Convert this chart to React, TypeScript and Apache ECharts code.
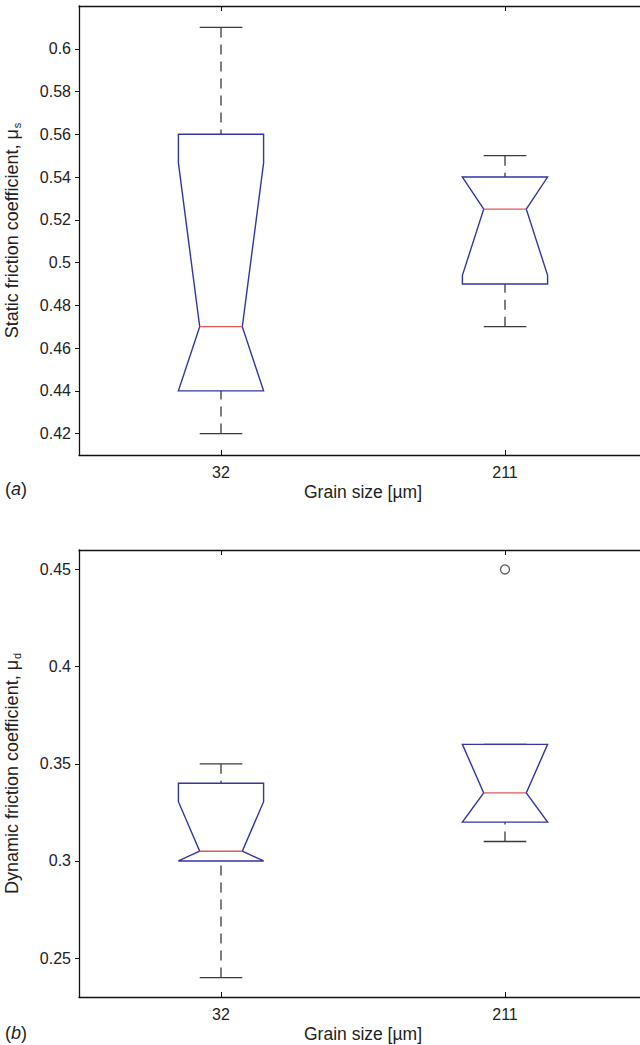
import React, { useEffect, useRef } from "react";
import * as echarts from "echarts";

// ---- data ----
const categories = ["32", "211"];

// (a) static friction coefficient
const staticMin = [0.42, 0.47];
const staticQ1 = [0.44, 0.49];
const staticMedian = [0.47, 0.525];
const staticQ3 = [0.56, 0.54];
const staticMax = [0.61, 0.55];
const staticNotchLo = [0.3934, 0.494];
const staticNotchHi = [0.5466, 0.556];
const staticTicks = [0.42, 0.44, 0.46, 0.48, 0.5, 0.52, 0.54, 0.56, 0.58, 0.6];

// (b) dynamic friction coefficient
const dynamicMin = [0.24, 0.31];
const dynamicQ1 = [0.3, 0.32];
const dynamicMedian = [0.305, 0.335];
const dynamicQ3 = [0.34, 0.36];
const dynamicMax = [0.35, 0.36];
const dynamicNotchLo = [0.2795, 0.305];
const dynamicNotchHi = [0.3305, 0.365];
const dynamicOutliers: [number, number][] = [[1, 0.45]];
const dynamicTicks = [0.25, 0.3, 0.35, 0.4, 0.45];

const FONT = "'Liberation Sans', Arial, Helvetica, sans-serif";
const BOX_COLOR = "#3535a2";
const MED_COLOR = "#e05a5a";
const WHISK_COLOR = "#3a3a3a";

function rows(mn: number[], q1: number[], md: number[], q3: number[], mx: number[], lo: number[], hi: number[]) {
  return categories.map((_, i) => [i, mn[i], q1[i], md[i], q3[i], mx[i], lo[i], hi[i]]);
}

function renderNotchedBox(params: any, api: any) {
  const x = api.value(0);
  const mn = api.value(1);
  const q1 = api.value(2);
  const md = api.value(3);
  const q3 = api.value(4);
  const mx = api.value(5);
  const lo = Math.max(api.value(6), q1);
  const hi = Math.min(api.value(7), q3);
  const band = api.size([1, 0])[0];
  const hw = band * 0.15;
  const nw = hw / 2;
  const cx = api.coord([x, md])[0];
  const Y = (v: number) => api.coord([x, v])[1];
  const pts = [
    [cx - hw, Y(q3)],
    [cx - hw, Y(hi)],
    [cx - nw, Y(md)],
    [cx - hw, Y(lo)],
    [cx - hw, Y(q1)],
    [cx + hw, Y(q1)],
    [cx + hw, Y(lo)],
    [cx + nw, Y(md)],
    [cx + hw, Y(hi)],
    [cx + hw, Y(q3)],
  ];
  const children: any[] = [];
  const dash = { stroke: WHISK_COLOR, lineWidth: 1.3, lineDash: [10, 7] };
  const cap = { stroke: WHISK_COLOR, lineWidth: 1.3 };
  if (mx > q3) {
    children.push({ type: "line", shape: { x1: cx, y1: Y(mx), x2: cx, y2: Y(q3) }, style: dash });
  }
  if (mn < q1) {
    children.push({ type: "line", shape: { x1: cx, y1: Y(mn), x2: cx, y2: Y(q1) }, style: dash });
  }
  children.push({ type: "line", shape: { x1: cx - nw, y1: Y(mx), x2: cx + nw, y2: Y(mx) }, style: cap });
  children.push({ type: "line", shape: { x1: cx - nw, y1: Y(mn), x2: cx + nw, y2: Y(mn) }, style: cap });
  children.push({
    type: "polygon",
    shape: { points: pts },
    style: { fill: "none", stroke: BOX_COLOR, lineWidth: 1.4, lineJoin: "miter" },
  });
  children.push({
    type: "line",
    shape: { x1: cx - nw, y1: Y(md), x2: cx + nw, y2: Y(md) },
    style: { stroke: MED_COLOR, lineWidth: 1.3 },
  });
  return { type: "group", children };
}

const fmt = (v: any) => String(+Number(v).toFixed(3));

function xAxes(gridIndex: number) {
  return [
    {
      type: "category",
      gridIndex,
      data: categories,
      position: "bottom",
      boundaryGap: true,
      axisLine: { show: true, onZero: false, lineStyle: { color: "#111", width: 1.3 } },
      axisTick: { show: true, inside: true, length: 5, alignWithLabel: true, lineStyle: { color: "#111" } },
      axisLabel: { show: true, margin: 9, color: "#222", fontSize: 16, fontFamily: FONT },
      splitLine: { show: false },
      splitArea: { show: false },
      name: "Grain size [µm]",
      nameLocation: "middle",
      nameGap: 28,
      nameTextStyle: { color: "#222", fontSize: 17.5, fontFamily: FONT },
    },
    {
      type: "category",
      gridIndex,
      data: categories,
      position: "top",
      boundaryGap: true,
      axisLine: { show: true, onZero: false, lineStyle: { color: "#111", width: 1.3 } },
      axisTick: { show: true, inside: true, length: 5, alignWithLabel: true, lineStyle: { color: "#111" } },
      axisLabel: { show: false },
      splitLine: { show: false },
      splitArea: { show: false },
    },
  ];
}

function yAxis(gridIndex: number, min: number, max: number, ticks: number[], name: string, sub: string) {
  return {
    type: "value",
    gridIndex,
    position: "left",
    min,
    max,
    name: `{n|${name}}{s|${sub}}`,
    nameLocation: "middle",
    nameRotate: 90,
    nameGap: 55,
    nameTextStyle: {
      color: "#222",
      fontFamily: FONT,
      rich: {
        n: { fontSize: 18, fontFamily: FONT, color: "#222", lineHeight: 24 },
        s: { fontSize: 11, fontFamily: FONT, color: "#222", lineHeight: 24, padding: [10, 0, 0, 1] },
      },
    },
    axisLine: { show: true, onZero: false, lineStyle: { color: "#111", width: 1.3 } },
    axisTick: { show: true, inside: false, length: 4, customValues: ticks, lineStyle: { color: "#111" } },
    axisLabel: { show: true, margin: 8, customValues: ticks, formatter: fmt, color: "#222", fontSize: 16, fontFamily: FONT },
    splitLine: { show: false },
    splitArea: { show: false },
  };
}

export default function App() {
  const ref = useRef<HTMLDivElement>(null);
  useEffect(() => {
    if (!ref.current) return;
    const chart = echarts.init(ref.current, null, { renderer: "svg" });
    chart.setOption({
      animation: false,
      backgroundColor: "#ffffff",
      grid: [
        { show: false, borderWidth: 0, borderColor: "transparent", left: 79, right: 33, top: 6, height: 449, containLabel: false, outerBoundsMode: "none" },
        { show: false, borderWidth: 0, borderColor: "transparent", left: 79, right: 33, top: 550, height: 447, containLabel: false, outerBoundsMode: "none" },
      ],
      xAxis: [...xAxes(0), ...xAxes(1)],
      yAxis: [
        yAxis(0, 0.41, 0.62, staticTicks, "Static friction coefficient, μ", "s"),
        yAxis(1, 0.23, 0.46, dynamicTicks, "Dynamic friction coefficient, μ", "d"),
      ],
      series: [
        {
          type: "custom",
          xAxisIndex: 0,
          yAxisIndex: 0,
          renderItem: renderNotchedBox,
          encode: { x: 0, y: [1, 2, 3, 4, 5] },
          data: rows(staticMin, staticQ1, staticMedian, staticQ3, staticMax, staticNotchLo, staticNotchHi),
          silent: true,
        },
        {
          type: "custom",
          xAxisIndex: 2,
          yAxisIndex: 1,
          renderItem: renderNotchedBox,
          encode: { x: 0, y: [1, 2, 3, 4, 5] },
          data: rows(dynamicMin, dynamicQ1, dynamicMedian, dynamicQ3, dynamicMax, dynamicNotchLo, dynamicNotchHi),
          silent: true,
        },
        {
          type: "scatter",
          xAxisIndex: 2,
          yAxisIndex: 1,
          symbol: "circle",
          symbolSize: 9,
          itemStyle: { color: "none", borderColor: "#333", borderWidth: 1.3 },
          data: dynamicOutliers,
          silent: true,
        },
      ],
      graphic: [
        {
          type: "text",
          left: 5,
          top: 480,
          style: {
            text: "({i|a})",
            fontSize: 18,
            fontFamily: FONT,
            fill: "#222",
            rich: { i: { fontStyle: "italic", fontSize: 18, fontFamily: FONT, fill: "#222" } },
          },
        },
        {
          type: "text",
          left: 5,
          top: 1024,
          style: {
            text: "({i|b})",
            fontSize: 18,
            fontFamily: FONT,
            fill: "#222",
            rich: { i: { fontStyle: "italic", fontSize: 18, fontFamily: FONT, fill: "#222" } },
          },
        },
      ],
    });
    return () => chart.dispose();
  }, []);
  return (
    <div style={{ position: "absolute", left: 0, top: 0, width: 640, height: 1045, overflow: "hidden", background: "#fff" }}>
      <div ref={ref} style={{ width: 680, height: 1045 }} />
    </div>
  );
}
